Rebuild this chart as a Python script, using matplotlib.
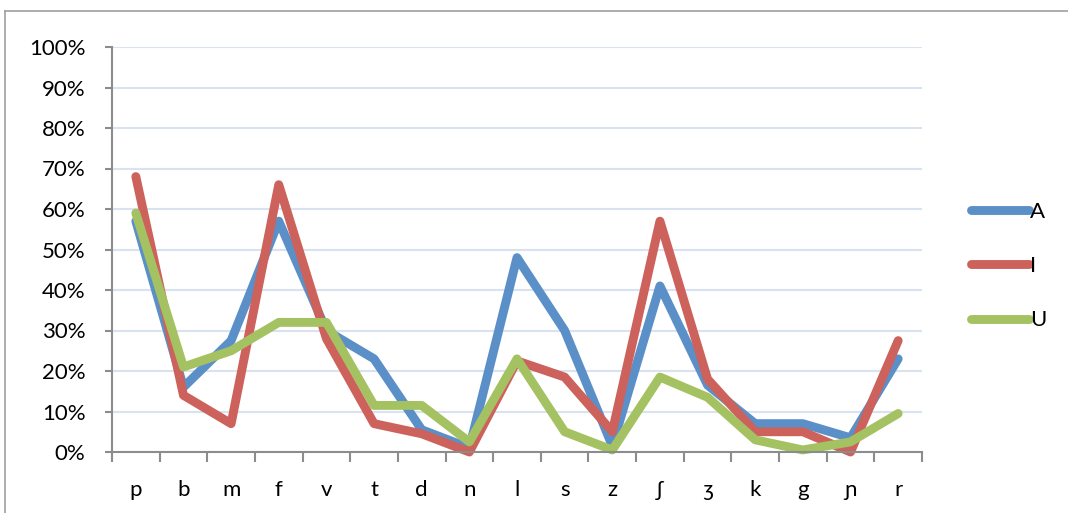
import matplotlib.pyplot as plt
from matplotlib.lines import Line2D
from matplotlib.ticker import FixedLocator, PercentFormatter

plt.rcParams['font.family'] = ['Lato', 'DejaVu Sans']

categories = ["p", "b", "m", "f", "v", "t", "d", "n", "l", "s", "z", "ʃ", "ʒ", "k", "g", "ɲ", "r"]
series_names = ["A", "I", "U"]
values_a = [57, 16, 27.5, 57, 30, 23, 5.5, 1, 48, 30, 1.5, 41, 16.5, 7, 7, 3.5, 23]
values_i = [68, 14, 7, 66, 28, 7, 4.5, 0, 22.5, 18.5, 5, 57, 18, 5, 5, 0, 27.5]
values_u = [59, 21, 25, 32, 32, 11.5, 11.5, 2.5, 23, 5, 0.5, 18.5, 13.5, 3, 0.5, 2.5, 9.5]
colors = ["#5b8fc8", "#cc625b", "#a5c262"]

fig = plt.figure(figsize=(10.68, 5.13), dpi=100)
ax = fig.add_axes([112 / 1068, 1 - 452 / 513, 810 / 1068, 405 / 513])

x = list(range(len(categories)))
for vals, name, col in zip([values_a, values_i, values_u], series_names, colors):
    ax.plot(x, vals, color=col, lw=6.4, solid_capstyle='round',
            solid_joinstyle='round', label=name, clip_on=False)

ax.set_xlim(-0.5, len(categories) - 0.5)
ax.set_ylim(0, 100)
ax.yaxis.set_major_locator(FixedLocator(range(0, 101, 10)))
ax.yaxis.set_major_formatter(PercentFormatter(decimals=0))
ax.grid(axis='y', color='#d9e2f0', lw=1.5)
ax.set_axisbelow(True)

# ticks between categories, labels centred on categories
ax.xaxis.set_major_locator(FixedLocator([i - 0.5 for i in range(len(categories) + 1)]))
ax.xaxis.set_major_formatter(plt.NullFormatter())
ax.xaxis.set_minor_locator(FixedLocator(x))
ax.set_xticklabels(categories, minor=True)
ax.tick_params(axis='x', which='major', length=7, width=1.5, color='#8c8c8c', direction='out')
ax.tick_params(axis='x', which='minor', length=0, pad=20, labelsize=16)
ax.tick_params(axis='y', length=5, width=1.5, color='#8c8c8c', labelsize=16, pad=14)

for s in ['top', 'right']:
    ax.spines[s].set_visible(False)
for s in ['left', 'bottom']:
    ax.spines[s].set_color('#8c8c8c')
    ax.spines[s].set_linewidth(1.5)

handles = [Line2D([0], [0], color=c, lw=6.4, solid_capstyle='round') for c in colors]
fig.legend(handles, series_names, loc='center left', bbox_to_anchor=(951 / 1068, 1 - 266 / 513),
           frameon=False, fontsize=16, handlelength=2.6, handletextpad=0.05, labelspacing=1.55)

# outer chart border (cropped on right and bottom)
fig.add_artist(Line2D([4.5 / 1068, 4.5 / 1068], [0, 1 - 11 / 513], color='#a0a0a0', lw=1.2))
fig.add_artist(Line2D([4.5 / 1068, 1], [1 - 11 / 513, 1 - 11 / 513], color='#a0a0a0', lw=1.2))

fig.savefig("out.png", dpi=100)
